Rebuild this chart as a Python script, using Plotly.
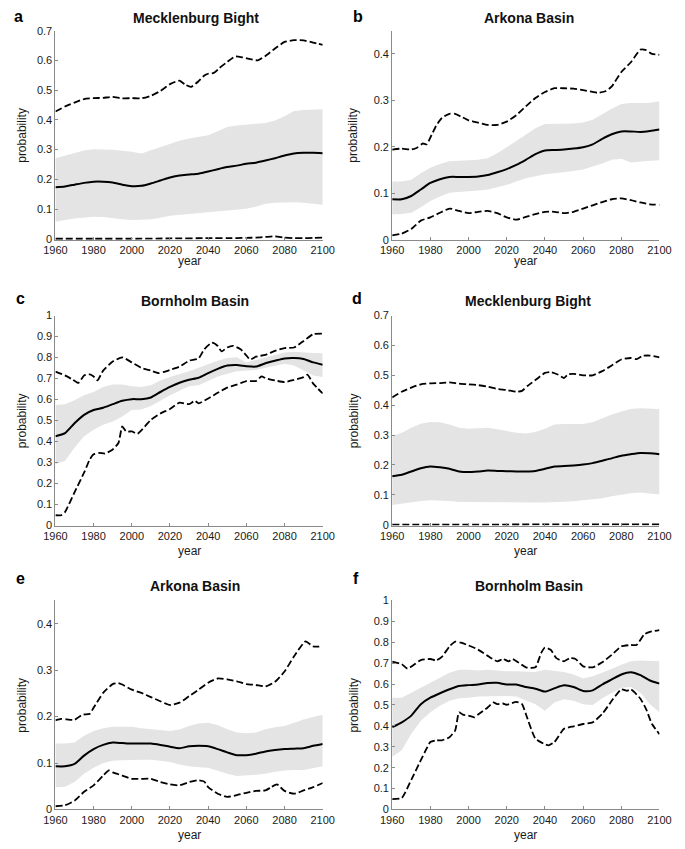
import plotly.graph_objects as go

# ---------------- data ----------------
YEARS5 = list(range(1960, 2101, 5))
X_TICKS = [1960, 1980, 2000, 2020, 2040, 2060, 2080, 2100]

PANEL_LETTERS = ["a", "b", "c", "d", "e", "f"]
PANEL_TITLES = ["Mecklenburg Bight", "Arkona Basin", "Bornholm Basin",
                "Mecklenburg Bight", "Arkona Basin", "Bornholm Basin"]
Y_MIN = [-0.003, 0, 0, -0.003, 0, 0]
Y_MAX = [0.7, 0.45, 1.0, 0.7, 0.45, 1.0]
Y_TICKS = [[0, 0.1, 0.2, 0.3, 0.4, 0.5, 0.6, 0.7],
           [0, 0.1, 0.2, 0.3, 0.4],
           [0, 0.1, 0.2, 0.3, 0.4, 0.5, 0.6, 0.7, 0.8, 0.9, 1],
           [0, 0.1, 0.2, 0.3, 0.4, 0.5, 0.6, 0.7],
           [0, 0.1, 0.2, 0.3, 0.4],
           [0, 0.1, 0.2, 0.3, 0.4, 0.5, 0.6, 0.7, 0.8, 0.9, 1]]

# Panel a
A_HI_X = [1960, 1965, 1970, 1975, 1980, 1985, 1990, 1995, 2000, 2005, 2010, 2015, 2020, 2025, 2028, 2031, 2035,
          2038, 2040, 2043, 2046, 2050, 2054, 2058, 2062, 2066, 2070, 2075, 2080, 2085, 2090, 2095, 2100]
A_HI_Y = [0.428, 0.445, 0.458, 0.47, 0.473, 0.474, 0.477, 0.472, 0.473, 0.472, 0.481, 0.497, 0.52, 0.532, 0.518,
          0.511, 0.53, 0.549, 0.555, 0.558, 0.575, 0.595, 0.613, 0.61, 0.604, 0.6, 0.615, 0.64, 0.662, 0.668, 0.667,
          0.66, 0.652]
A_MEAN = [0.173, 0.176, 0.182, 0.188, 0.192, 0.192, 0.189, 0.182, 0.177, 0.178, 0.186, 0.196, 0.206, 0.213, 0.216,
          0.219, 0.226, 0.234, 0.241, 0.246, 0.252, 0.256, 0.263, 0.271, 0.28, 0.287, 0.289, 0.289, 0.288]
A_BAND_HI = [0.271, 0.28, 0.29, 0.297, 0.301, 0.301, 0.299, 0.296, 0.293, 0.287, 0.298, 0.31, 0.321, 0.33, 0.337,
             0.342, 0.348, 0.362, 0.376, 0.381, 0.385, 0.387, 0.389, 0.398, 0.412, 0.43, 0.433, 0.434, 0.436]
A_BAND_LO = [0.057, 0.063, 0.068, 0.072, 0.074, 0.073, 0.07, 0.066, 0.063, 0.064, 0.066, 0.071, 0.077, 0.081, 0.085,
             0.087, 0.09, 0.093, 0.096, 0.098, 0.101, 0.108, 0.118, 0.121, 0.123, 0.123, 0.121, 0.118, 0.114]
A_LO_X = [1960, 1980, 2000, 2020, 2040, 2050, 2060, 2065, 2070, 2075, 2080, 2085, 2090, 2095, 2100]
A_LO_Y = [0.0, 0.0, 0.0, 0.001, 0.002, 0.002, 0.003, 0.004, 0.006, 0.008, 0.004, 0.002, 0.002, 0.003, 0.004]

# Panel b
B_HI_X = [1960, 1965, 1970, 1973, 1976, 1978, 1980, 1983, 1986, 1990, 1993, 1996, 2000, 2005, 2010, 2015, 2020,
          2025, 2030, 2035, 2040, 2045, 2050, 2055, 2060, 2065, 2068, 2072, 2075, 2080, 2085, 2090, 2093, 2096, 2100]
B_HI_Y = [0.194, 0.196, 0.194, 0.198, 0.207, 0.205, 0.22, 0.245, 0.262, 0.271, 0.271, 0.265, 0.257, 0.252, 0.247,
          0.247, 0.254, 0.268, 0.287, 0.305, 0.318, 0.326, 0.326, 0.325, 0.322, 0.318, 0.316, 0.32, 0.33, 0.361,
          0.382, 0.409, 0.408, 0.4, 0.398]
B_MEAN = [0.087, 0.087, 0.094, 0.108, 0.122, 0.13, 0.135, 0.135, 0.135, 0.136, 0.139, 0.145, 0.152, 0.161, 0.172,
          0.184, 0.192, 0.193, 0.194, 0.196, 0.199, 0.205, 0.217, 0.227, 0.233, 0.233, 0.232, 0.234, 0.237]
B_BAND_HI = [0.125, 0.125, 0.129, 0.143, 0.155, 0.163, 0.169, 0.17, 0.17, 0.172, 0.175, 0.186, 0.199, 0.213, 0.227,
             0.24, 0.249, 0.249, 0.249, 0.25, 0.252, 0.258, 0.27, 0.282, 0.292, 0.294, 0.294, 0.295, 0.298]
B_BAND_LO = [0.054, 0.055, 0.058, 0.07, 0.083, 0.093, 0.101, 0.103, 0.104, 0.106, 0.108, 0.113, 0.118, 0.125, 0.132,
             0.137, 0.141, 0.143, 0.145, 0.148, 0.151, 0.157, 0.164, 0.172, 0.174, 0.166, 0.168, 0.17, 0.171]
B_LO_X = YEARS5
B_LO_Y = [0.009, 0.013, 0.023, 0.041, 0.048, 0.058, 0.067, 0.062, 0.057, 0.06, 0.062, 0.057, 0.048, 0.043, 0.049,
          0.055, 0.06, 0.06, 0.057, 0.06, 0.067, 0.074, 0.081, 0.087, 0.089, 0.085, 0.08, 0.076, 0.075]

# Panel c
C_HI_X = [1960, 1965, 1969, 1972, 1975, 1978, 1980, 1982, 1985, 1990, 1995, 2000, 2005, 2010, 2014, 2017, 2020,
          2025, 2030, 2035, 2038, 2042, 2045, 2047, 2050, 2053, 2057, 2060, 2062, 2065, 2070, 2075, 2080, 2085, 2090,
          2095, 2100]
C_HI_Y = [0.733, 0.715, 0.695, 0.679, 0.715, 0.72, 0.71, 0.691, 0.738, 0.781, 0.801, 0.777, 0.751, 0.738, 0.726,
          0.732, 0.741, 0.757, 0.785, 0.796, 0.84, 0.871, 0.855, 0.829, 0.848, 0.856, 0.84, 0.81, 0.79, 0.804, 0.813,
          0.832, 0.845, 0.848, 0.879, 0.911, 0.914]
C_MEAN = [0.425, 0.44, 0.487, 0.527, 0.55, 0.561, 0.578, 0.594, 0.602, 0.602, 0.61, 0.636, 0.66, 0.68, 0.694, 0.704,
          0.726, 0.746, 0.762, 0.765, 0.759, 0.757, 0.773, 0.785, 0.796, 0.798, 0.793, 0.777, 0.766]
C_BAND_HI = [0.574, 0.578, 0.597, 0.621, 0.636, 0.66, 0.672, 0.672, 0.663, 0.66, 0.668, 0.691, 0.707, 0.72, 0.735,
             0.752, 0.77, 0.785, 0.798, 0.801, 0.777, 0.788, 0.801, 0.812, 0.824, 0.828, 0.824, 0.822, 0.82]
C_BAND_LO = [0.292, 0.307, 0.37, 0.425, 0.456, 0.48, 0.495, 0.519, 0.55, 0.553, 0.569, 0.594, 0.621, 0.641, 0.663,
             0.668, 0.688, 0.71, 0.723, 0.735, 0.738, 0.741, 0.751, 0.762, 0.77, 0.762, 0.738, 0.715, 0.707]
C_LO_X = [1960, 1963, 1965, 1970, 1975, 1978, 1980, 1983, 1986, 1990, 1993, 1995, 1997, 2000, 2003, 2005, 2010,
          2015, 2020, 2025, 2030, 2033, 2035, 2040, 2045, 2050, 2055, 2060, 2065, 2068, 2070, 2075, 2080, 2085, 2090,
          2092, 2095, 2100]
C_LO_Y = [0.049, 0.049, 0.064, 0.158, 0.252, 0.315, 0.339, 0.346, 0.343, 0.362, 0.393, 0.472, 0.448, 0.448, 0.437,
          0.453, 0.503, 0.534, 0.555, 0.585, 0.578, 0.594, 0.582, 0.605, 0.632, 0.657, 0.671, 0.688, 0.688, 0.71,
          0.702, 0.691, 0.683, 0.694, 0.707, 0.719, 0.676, 0.629]

# Panel d
D_HI_X = [1960, 1965, 1970, 1975, 1980, 1985, 1990, 1995, 2000, 2005, 2010, 2015, 2020, 2025, 2028, 2031, 2035,
          2040, 2043, 2047, 2050, 2052, 2055, 2060, 2065, 2070, 2075, 2080, 2085, 2088, 2091, 2095, 2100]
D_HI_Y = [0.426, 0.445, 0.459, 0.47, 0.473, 0.474, 0.476, 0.472, 0.47, 0.467, 0.462, 0.454, 0.451, 0.445, 0.448,
          0.465, 0.484, 0.508, 0.511, 0.502, 0.491, 0.503, 0.505, 0.5, 0.5, 0.514, 0.533, 0.553, 0.558, 0.554, 0.565,
          0.566, 0.56]
D_MEAN = [0.162, 0.167, 0.178, 0.189, 0.195, 0.192, 0.187, 0.178, 0.176, 0.178, 0.181, 0.18, 0.179, 0.178, 0.178,
          0.18, 0.187, 0.195, 0.196, 0.198, 0.201, 0.206, 0.214, 0.222, 0.231, 0.236, 0.24, 0.239, 0.236]
D_BAND_HI = [0.297, 0.308, 0.324, 0.338, 0.344, 0.343, 0.335, 0.324, 0.321, 0.322, 0.324, 0.319, 0.313, 0.308, 0.305,
             0.31, 0.321, 0.335, 0.337, 0.337, 0.337, 0.343, 0.357, 0.369, 0.379, 0.387, 0.39, 0.389, 0.387]
D_BAND_LO = [0.066, 0.07, 0.075, 0.079, 0.082, 0.081, 0.079, 0.076, 0.074, 0.074, 0.074, 0.075, 0.075, 0.075, 0.074,
             0.074, 0.074, 0.075, 0.077, 0.078, 0.08, 0.084, 0.088, 0.095, 0.101, 0.105, 0.108, 0.105, 0.101]
D_LO_X = [1960, 2000, 2050, 2100]
D_LO_Y = [0.0, 0.0, 0.001, 0.001]

# Panel e
E_HI_X = [1960, 1963, 1966, 1970, 1974, 1978, 1980, 1985, 1990, 1993, 1995, 2000, 2005, 2010, 2015, 2020, 2025,
          2030, 2035, 2040, 2045, 2050, 2055, 2060, 2065, 2070, 2075, 2080, 2085, 2091, 2095, 2100]
E_HI_Y = [0.192, 0.195, 0.194, 0.193, 0.204, 0.206, 0.219, 0.251, 0.27, 0.272, 0.269, 0.258, 0.251, 0.242, 0.233,
          0.225, 0.23, 0.244, 0.258, 0.273, 0.282, 0.28, 0.276, 0.27, 0.268, 0.265, 0.275, 0.297, 0.33, 0.362, 0.351,
          0.351]
E_MEAN = [0.093, 0.093, 0.098, 0.116, 0.13, 0.139, 0.144, 0.143, 0.142, 0.142, 0.142, 0.139, 0.135, 0.132, 0.136,
          0.137, 0.136, 0.13, 0.123, 0.117, 0.117, 0.12, 0.125, 0.128, 0.13, 0.131, 0.132, 0.137, 0.141]
E_BAND_HI = [0.142, 0.142, 0.144, 0.159, 0.169, 0.175, 0.178, 0.178, 0.178, 0.175, 0.173, 0.171, 0.169, 0.172, 0.18,
             0.185, 0.187, 0.182, 0.173, 0.166, 0.164, 0.166, 0.173, 0.177, 0.18, 0.187, 0.194, 0.199, 0.204]
E_BAND_LO = [0.048, 0.049, 0.059, 0.077, 0.09, 0.1, 0.105, 0.106, 0.107, 0.107, 0.107, 0.105, 0.102, 0.097, 0.093,
             0.091, 0.09, 0.083, 0.077, 0.072, 0.073, 0.075, 0.077, 0.081, 0.084, 0.085, 0.085, 0.089, 0.093]
E_LO_X = [1960, 1965, 1970, 1975, 1980, 1985, 1988, 1990, 1995, 2000, 2005, 2010, 2015, 2020, 2025, 2030, 2035,
          2038, 2040, 2045, 2050, 2055, 2060, 2065, 2070, 2073, 2076, 2080, 2085, 2090, 2095, 2100]
E_LO_Y = [0.007, 0.009, 0.019, 0.038, 0.052, 0.073, 0.084, 0.08, 0.073, 0.066, 0.066, 0.066, 0.059, 0.054, 0.052,
          0.059, 0.063, 0.06, 0.048, 0.034, 0.027, 0.031, 0.036, 0.04, 0.041, 0.048, 0.054, 0.04, 0.034, 0.041, 0.048,
          0.057]

# Panel f
F_HI_X = [1960, 1965, 1968, 1971, 1975, 1980, 1983, 1986, 1990, 1993, 1996, 2000, 2005, 2010, 2015, 2018, 2021,
          2023, 2026, 2030, 2035, 2038, 2040, 2043, 2046, 2050, 2053, 2056, 2060, 2065, 2070, 2075, 2080, 2085, 2088,
          2092, 2095, 2100]
F_HI_Y = [0.707, 0.695, 0.674, 0.69, 0.715, 0.72, 0.713, 0.73, 0.78, 0.803, 0.798, 0.785, 0.765, 0.735, 0.709, 0.72,
          0.709, 0.72, 0.704, 0.68, 0.68, 0.748, 0.775, 0.764, 0.724, 0.709, 0.724, 0.72, 0.685, 0.68, 0.704, 0.74,
          0.78, 0.787, 0.787, 0.838, 0.85, 0.858]
F_MEAN = [0.394, 0.417, 0.449, 0.504, 0.535, 0.556, 0.575, 0.591, 0.595, 0.598, 0.605, 0.606, 0.598, 0.598, 0.586,
          0.578, 0.564, 0.58, 0.594, 0.586, 0.567, 0.57, 0.598, 0.622, 0.646, 0.657, 0.643, 0.617, 0.602]
F_BAND_HI = [0.535, 0.535, 0.559, 0.583, 0.606, 0.63, 0.654, 0.669, 0.669, 0.665, 0.669, 0.665, 0.661, 0.661, 0.661,
             0.658, 0.669, 0.665, 0.658, 0.646, 0.627, 0.638, 0.654, 0.672, 0.693, 0.709, 0.713, 0.712, 0.709]
F_BAND_LO = [0.252, 0.283, 0.362, 0.425, 0.465, 0.496, 0.52, 0.532, 0.535, 0.54, 0.543, 0.543, 0.543, 0.54, 0.523,
             0.504, 0.472, 0.512, 0.528, 0.52, 0.504, 0.5, 0.532, 0.559, 0.583, 0.586, 0.559, 0.504, 0.465]
F_LO_X = [1960, 1965, 1970, 1975, 1978, 1980, 1983, 1986, 1990, 1993, 1995, 1997, 2000, 2003, 2005, 2010, 2013,
          2015, 2018, 2020, 2025, 2028, 2030, 2035, 2040, 2042, 2045, 2050, 2055, 2060, 2065, 2070, 2075, 2080, 2083,
          2085, 2090, 2093, 2096, 2100]
F_LO_Y = [0.05, 0.055, 0.142, 0.236, 0.291, 0.323, 0.331, 0.331, 0.346, 0.378, 0.465, 0.454, 0.449, 0.441, 0.454,
          0.488, 0.512, 0.504, 0.507, 0.501, 0.515, 0.504, 0.457, 0.339, 0.312, 0.307, 0.323, 0.386, 0.398, 0.409,
          0.417, 0.457, 0.52, 0.575, 0.568, 0.575, 0.53, 0.48, 0.41, 0.36]

PANELS = [
    (A_HI_X, A_HI_Y, A_MEAN, A_BAND_HI, A_BAND_LO, A_LO_X, A_LO_Y),
    (B_HI_X, B_HI_Y, B_MEAN, B_BAND_HI, B_BAND_LO, B_LO_X, B_LO_Y),
    (C_HI_X, C_HI_Y, C_MEAN, C_BAND_HI, C_BAND_LO, C_LO_X, C_LO_Y),
    (D_HI_X, D_HI_Y, D_MEAN, D_BAND_HI, D_BAND_LO, D_LO_X, D_LO_Y),
    (E_HI_X, E_HI_Y, E_MEAN, E_BAND_HI, E_BAND_LO, E_LO_X, E_LO_Y),
    (F_HI_X, F_HI_Y, F_MEAN, F_BAND_HI, F_BAND_LO, F_LO_X, F_LO_Y),
]

# ---------------- layout geometry (pixels) ----------------
W, H = 685, 849
COL_X = [(45, 322), (394, 671)]
ROW_Y = [(25, 237), (314, 527), (603, 815)]
LETTER_POS = [(7, 11), (359, 11), (9, 297), (358, 297), (9, 581), (357, 581)]
TITLE_POS = [(191, 12), (536, 12), (190, 299), (535, 299), (190, 588), (536, 588)]
YEAR_Y = [259, 553, 841]
PROB_X = [10, 354]

FONT = "Liberation Sans, Arial, Helvetica, sans-serif"
BAND_COLOR = "#e4e4e4"
AXIS_COLOR = "#8a8a8a"


def px(x):
    return x / W


def py(y):
    return 1 - y / H


fig = go.Figure()
layout = dict(
    width=W, height=H, margin=dict(l=0, r=0, t=0, b=0),
    paper_bgcolor="white", plot_bgcolor="white", showlegend=False,
    font=dict(family=FONT, size=11, color="#1a1a1a"),
)
annotations = []

for i, (hx, hy, mean, bhi, blo, lx, ly) in enumerate(PANELS):
    row, col = divmod(i, 2)
    n = i + 1
    xa = "x" if n == 1 else f"x{n}"
    ya = "y" if n == 1 else f"y{n}"
    # band
    fig.add_trace(go.Scatter(
        x=YEARS5 + YEARS5[::-1], y=bhi + blo[::-1], xaxis=xa, yaxis=ya,
        fill="toself", fillcolor=BAND_COLOR, line=dict(width=0), mode="lines",
        hoverinfo="skip"))
    # dashed extremes
    for xs, ys in ((hx, hy), (lx, ly)):
        fig.add_trace(go.Scatter(
            x=xs, y=ys, xaxis=xa, yaxis=ya, mode="lines",
            line=dict(color="black", width=1.8, dash="7px,3px", shape="spline", smoothing=0.5)))
    # mean
    fig.add_trace(go.Scatter(
        x=YEARS5, y=mean, xaxis=xa, yaxis=ya, mode="lines",
        line=dict(color="black", width=2, shape="spline", smoothing=0.6)))

    x0, x1 = COL_X[col]
    y0, y1 = ROW_Y[row]
    axis_common = dict(showline=True, linecolor=AXIS_COLOR, linewidth=1, showgrid=False,
                       zeroline=False, ticks="inside", ticklen=3, tickcolor=AXIS_COLOR,
                       tickfont=dict(family=FONT, size=11, color="#1a1a1a"), mirror=False)
    layout["xaxis" if n == 1 else f"xaxis{n}"] = dict(
        axis_common, domain=[px(x0), px(x1)], range=[1960, 2100], tickvals=X_TICKS,
        anchor=ya)
    layout["yaxis" if n == 1 else f"yaxis{n}"] = dict(
        axis_common, domain=[py(y1), py(y0)], range=[Y_MIN[i], Y_MAX[i]], tickvals=Y_TICKS[i],
        ticktext=[("%g" % v) for v in Y_TICKS[i]], anchor=xa)

    lx_, ly_ = LETTER_POS[i]
    annotations.append(dict(text=f"<b>{PANEL_LETTERS[i]}</b>", x=px(lx_), y=py(ly_), xref="paper",
                            yref="paper", showarrow=False, xanchor="center", yanchor="middle",
                            font=dict(family=FONT, size=16, color="black")))
    tx, ty = TITLE_POS[i]
    annotations.append(dict(text=f"<b>{PANEL_TITLES[i]}</b>", x=px(tx), y=py(ty), xref="paper",
                            yref="paper", showarrow=False, xanchor="center", yanchor="middle",
                            font=dict(family=FONT, size=14, color="#111")))
    annotations.append(dict(text="year", x=px((x0 + x1) / 2), y=py(YEAR_Y[row]), xref="paper",
                            yref="paper", showarrow=False, xanchor="center", yanchor="middle",
                            font=dict(family=FONT, size=12, color="#1a1a1a")))
    annotations.append(dict(text="probability", x=px(PROB_X[col]), y=py((y0 + y1) / 2), xref="paper",
                            yref="paper", showarrow=False, textangle=-90, xanchor="center",
                            yanchor="middle", font=dict(family=FONT, size=12, color="#1a1a1a")))

layout["annotations"] = annotations
fig.update_layout(**layout)
fig.write_html("out.html", config={"displayModeBar": False},
               post_script="document.body.style.margin='0';document.body.style.overflow='hidden';")
